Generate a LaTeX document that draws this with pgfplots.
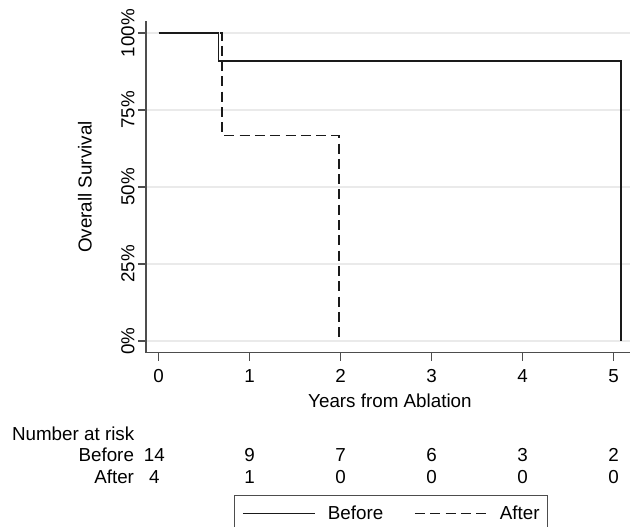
\documentclass[border=0pt]{standalone}
\usepackage{fontspec}
\setmainfont{Liberation Sans}
\usepackage{pgfplots}
\pgfplotsset{compat=1.18}
\definecolor{axisgray}{HTML}{4D4D4D}
\definecolor{gridgray}{HTML}{EAEAEA}
\definecolor{curve}{HTML}{1A1A1A}
\begin{document}
\fontsize{18.8}{22.5}\selectfont
\begin{tikzpicture}[x=1pt,y=1pt]
\useasboundingbox (0,0) rectangle (630,-527);
\begin{axis}[
  at={(146pt,-352.7pt)}, anchor=south west,
  scale only axis, width=484pt, height=331.7pt,
  xmin=-0.138, xmax=5.18, ymin=-0.038, ymax=1.039,
  clip=false,
  axis x line*=bottom, axis y line*=left,
  axis line style={axisgray, line width=1.3pt},
  xtick={0,1,2,3,4,5}, xticklabels={0,1,2,3,4,5},
  ytick={0,0.25,0.5,0.75,1}, yticklabels={0\%,25\%,50\%,75\%,100\%},
  /pgf/number format/assume math mode=true,
  tick align=outside, major tick length=8pt,
  tick style={axisgray, line width=1.3pt},
  ymajorgrids, grid style={gridgray, line width=1.5pt},
  yticklabel style={xshift=-3.5pt, rotate=90, anchor=base, inner sep=0pt},
  xticklabel style={yshift=-21.3pt, anchor=base, inner sep=0pt},
  xlabel={Years from Ablation},
  xlabel style={at={(axis description cs:0.504,-0.1667)}, anchor=base, inner sep=0pt},
  ylabel={Overall Survival},
  ylabel style={at={(axis description cs:-0.1122,0.4996)}, anchor=base, inner sep=0pt},
  legend style={at={(axis description cs:0.1818,-0.4290)}, anchor=north west,
    draw=axisgray, line width=1.3pt, inner xsep=7.7pt, inner ysep=10.6pt,
    legend columns=-1, nodes={inner sep=0pt},
    /tikz/every odd column/.append style={column sep=12.7pt},
    /tikz/every even column/.append style={column sep=31pt}},
  legend image code/.code={\draw[#1, line width=1.3pt] (0pt,0.7pt) -- (71.6pt,0.7pt);},
]
\addplot[curve, line width=1.7pt] coordinates {(0,1) (0.66,1) (0.66,0.909) (5.08,0.909) (5.08,0)};
\addlegendentry{Before}
\addplot[curve, line width=1.7pt, dash pattern=on 10pt off 5.3pt] coordinates {(0,1) (0.70,1) (0.70,0.667) (1.98,0.667) (1.98,0)};
\addlegendentry{After}
\node[anchor=base west, inner sep=0pt] at (axis cs:-1.612,-0.3237) {Number at risk};
\node[anchor=base east, inner sep=0pt] at (axis cs:-0.268,-0.3919) {Before};
\node[anchor=base east, inner sep=0pt] at (axis cs:-0.268,-0.4620) {After};
\node[anchor=base, inner sep=0pt] at (axis cs:-0.046,-0.3919) {14};
\node[anchor=base, inner sep=0pt] at (axis cs:1,-0.3919) {9};
\node[anchor=base, inner sep=0pt] at (axis cs:2,-0.3919) {7};
\node[anchor=base, inner sep=0pt] at (axis cs:3,-0.3919) {6};
\node[anchor=base, inner sep=0pt] at (axis cs:4,-0.3919) {3};
\node[anchor=base, inner sep=0pt] at (axis cs:5,-0.3919) {2};
\node[anchor=base, inner sep=0pt] at (axis cs:-0.046,-0.4620) {4};
\node[anchor=base, inner sep=0pt] at (axis cs:1,-0.4620) {1};
\node[anchor=base, inner sep=0pt] at (axis cs:2,-0.4620) {0};
\node[anchor=base, inner sep=0pt] at (axis cs:3,-0.4620) {0};
\node[anchor=base, inner sep=0pt] at (axis cs:4,-0.4620) {0};
\node[anchor=base, inner sep=0pt] at (axis cs:5,-0.4620) {0};
\end{axis}
\end{tikzpicture}
\end{document}
